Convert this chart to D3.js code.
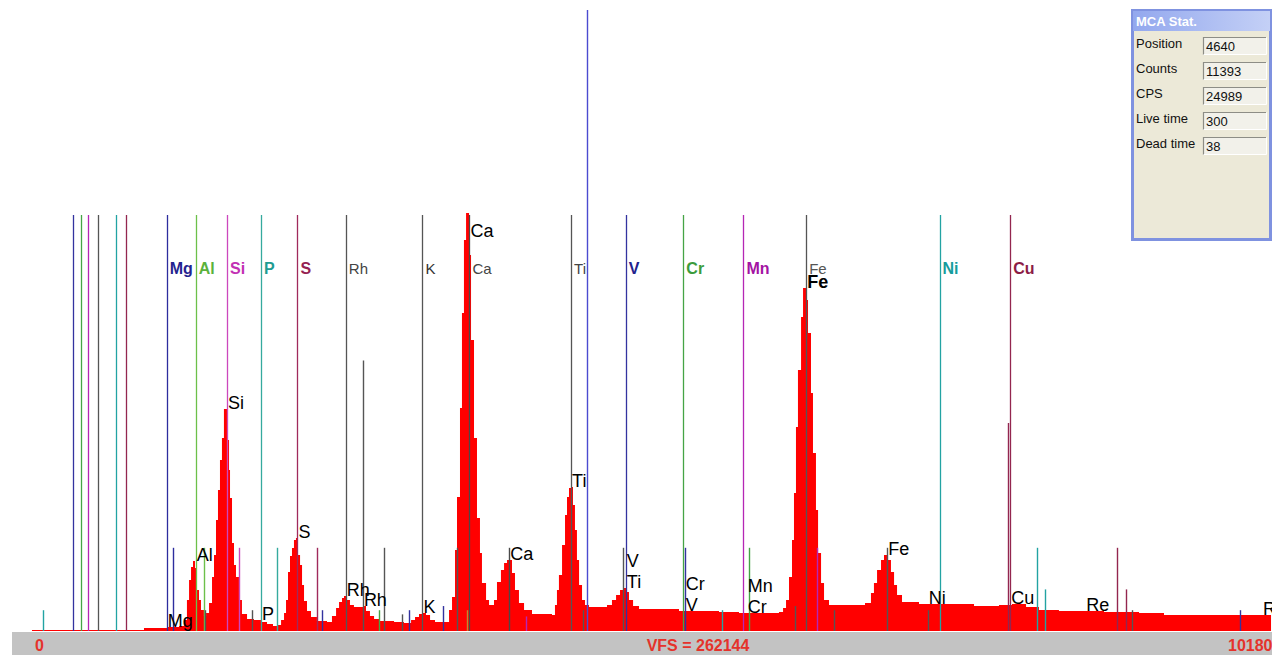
<!DOCTYPE html>
<html>
<head>
<meta charset="utf-8">
<script src="https://cdn.jsdelivr.net/npm/d3@7"></script>
<style>
  html, body { margin: 0; padding: 0; background: #fff; overflow: hidden; }
  svg { display: block; }
  text { font-family: "Liberation Sans", Arial, sans-serif; }
</style>
</head>
<body>
<svg id="chart" width="1272" height="655"></svg>
<script>
// ---- Spectrum: channel energy (eV) and counts per step ----
const energy = [169, 387, 709, 1071, 1256, 1353, 1393, 1417, 1434, 1450, 1466, 1482, 1498, 1514, 1530, 1554, 1571,
  1595, 1619, 1635, 1651, 1667, 1683, 1699, 1715, 1740, 1756, 1764, 1780, 1796, 1812, 1836, 1860, 1901, 1957,
  2013, 2062, 2110, 2142, 2175, 2199, 2215, 2231, 2247, 2263, 2279, 2295, 2311, 2328, 2344, 2360, 2384, 2416,
  2464, 2545, 2585, 2618, 2642, 2666, 2682, 2706, 2730, 2762, 2835, 2859, 2891, 2924, 2964, 3085, 3165, 3222,
  3254, 3286, 3310, 3342, 3375, 3415, 3495, 3528, 3552, 3576, 3592, 3616, 3632, 3648, 3665, 3689, 3705, 3729,
  3753, 3777, 3793, 3826, 3850, 3890, 3914, 3946, 3971, 3995, 4011, 4035, 4059, 4091, 4132, 4196, 4357, 4381,
  4397, 4413, 4438, 4462, 4478, 4494, 4510, 4526, 4542, 4558, 4575, 4599, 4623, 4655, 4800, 4840, 4873, 4905,
  4929, 4953, 4977, 5010, 5058, 5380, 5702, 5863, 6185, 6218, 6242, 6266, 6290, 6306, 6322, 6338, 6363, 6379,
  6403, 6419, 6443, 6459, 6483, 6500, 6524, 6548, 6588, 6878, 6926, 6950, 6975, 7007, 7031, 7055, 7087, 7112,
  7136, 7176, 7313, 7756, 7957, 8062, 8175, 8279, 8440, 8803, 9085, 9286, 10148];
const counts = [422, 422, 422, 1266, 1689, 2111, 4643, 13086, 21529, 27016, 29549, 26594, 17307, 13086, 8865, 6332, 7598,
  11820, 22795, 32082, 46856, 59520, 72184, 81471, 93713, 80627, 67963, 56143, 37147, 27861, 22795, 13086, 7176, 5066, 4643,
  3799, 2955, 2111, 2533, 4643, 7598, 13086, 24906, 31660, 35037, 38414, 39258, 32082, 27861, 19418, 12664, 8443, 5910,
  4221, 3799, 6332, 9709, 12242, 13930, 14775, 13086, 10975, 10131, 10553, 8443, 6332, 5066, 4221, 3799, 3377, 4643,
  5910, 7176, 7598, 6754, 4643, 3799, 3799, 8865, 14352, 34193, 56565, 94135, 134237, 165053, 176450, 158721, 122840, 81471,
  47701, 32926, 20262, 13086, 10975, 13086, 20684, 25750, 28705, 29971, 29971, 24484, 17307, 11820, 8865, 7176, 6754, 10975,
  17307, 23639, 36303, 48967, 56565, 60365, 60787, 53188, 42635, 29971, 19418, 13086, 10975, 10131, 10975, 13086, 15197, 17307,
  18152, 16463, 13086, 10553, 9287, 8443, 8020, 7598, 8020, 9709, 13086, 22795, 38414, 58254, 86115, 110176, 132549, 144791,
  139725, 125795, 100467, 75139, 51078, 32926, 20262, 13086, 10975, 11820, 16041, 20262, 25750, 29971, 32082, 29971, 24906, 19418,
  15197, 12242, 11398, 10553, 10975, 11398, 10131, 8865, 8443, 8020, 7598, 6754, 7176];

const fullScale = 262144;     // vertical full scale (VFS)
const channelMax = 10180;     // last channel shown
const markerLevel = 175600;   // height of a full-strength element marker

// ---- Element K/L marker lines ----
const markerElements = ["Mg", "Al", "Si", "P", "S", "Rh", "K", "Ca", "Ti", "V", "Cr", "Mn", "Fe", "Ni", "Cu"];
const markerEnergies = [1254, 1487, 1740, 2013, 2307, 2697, 3314, 3692, 4511, 4952, 5415, 5899, 6404, 7478, 8048];

const lLineElements = ["V", "Cr", "Mn", "Fe", "Ni", "Cu"];
const lLineEnergies = [502, 564, 623, 703, 843, 924];

// secondary lines (K-beta, L-beta, escape and sum lines) with relative intensity
const minorElements = ["Ni", "Mg", "Al", "Fe", "Si", "Rh", "P", "S", "V", "Rh", "Cr", "Rh", "Rh", "V", "V", "K", "Sum",
  "Ca", "Mn", "Ti", "Ti", "V", "Ni", "Cr", "Fe", "Mn", "Fe", "Fe", "Fe", "Cu", "Ni", "Ni", "Cu", "Cu", "Fe", "V"];
const minorEnergies = [260, 1302, 1557, 1560, 1836, 1941, 2139, 2464, 2502, 2834, 2964, 3001, 3147, 3205, 3479, 3590, 3670,
  4013, 4148, 4604, 4932, 5427, 5724, 5947, 6314, 6490, 6628, 7058, 7383, 8028, 8265, 8328, 8905, 8977, 9031, 9898];
const minorIntensity = [0.05, 0.2, 0.2, 0.05, 0.2, 0.05, 0.2, 0.2, 0.05, 0.65, 0.05, 0.2, 0.04, 0.05, 0.06, 0.2, 0.05,
  0.2, 0.035, 0.05, 0.2, 0.2, 0.05, 0.2, 0.06, 0.2, 0.05, 0.2, 0.05, 0.5, 0.2, 0.1, 0.2, 0.1, 0.05, 0.05];

// ---- Peak identification labels ----
const peakLabelText = ["Mg", "Al", "Si", "P", "S", "Rh", "Rh", "K", "Ca", "Ca", "Ti", "Ti", "V", "V", "Cr", "Cr", "Mn",
  "Fe", "Fe", "Ni", "Cu", "Re", "Re"];
const peakLabelEnergy = [1254, 1487, 1740, 2013, 2307, 2697, 2834, 3314, 3692, 4013, 4511, 4952, 4952, 5427, 5427, 5925, 5925,
  6404, 7058, 7383, 8048, 8652, 10075];
const peakLabelStack = [0, 0, 0, 0, 0, 0, 0, 0, 0, 0, 0, 0, 1, 0, 1, 0, 1, 0, 0, 0, 0, 0, 0];

// ---- Acquisition status ----
const statNames = ["Position", "Counts", "CPS", "Live time", "Dead time"];
const statValues = ["4640", "11393", "24989", "300", "38"];
const cursorPosition = 4640;

// ---- Styles ----
const elementColor = {
  Mg: "#2d2d9e", Al: "#6cc04a", Si: "#cc47bd", P: "#35aa9e", S: "#a02a5c", Rh: "#555555", K: "#555555",
  Ca: "#4a4a4a", Ti: "#555555", V: "#33339f", Cr: "#45a445", Mn: "#b526b5", Fe: "#555555", Ni: "#22a3a3",
  Cu: "#93264f", Sum: "#c08a30"
};
const labelStyle = {
  Mg: ["#24248f", 700], Al: ["#5bb23b", 700], Si: ["#c230b4", 700], P: ["#1f9c92", 700], S: ["#951f52", 700],
  Rh: ["#444", 400], K: ["#333", 400], Ca: ["#444", 400], Ti: ["#444", 400], V: ["#22228c", 700],
  Cr: ["#3c9b3c", 700], Mn: ["#a313a3", 700], Fe: ["#555", 400], Ni: ["#169c9c", 700], Cu: ["#8c1c46", 700]
};

const W = 1272, H = 655;
const svg = d3.select("#chart");
svg.append("rect").attr("width", W).attr("height", H).attr("fill", "#fff");

const x = d3.scaleLinear().domain([0, channelMax]).range([11, 1275]);
const y = d3.scaleLinear().domain([0, fullScale]).range([631, 10]);

const spectrum = energy.map((e, i) => ({ e, c: counts[i] }));

// spectrum fill (histogram steps)
const area = d3.area()
  .x(d => x(d.e))
  .y0(y(0))
  .y1(d => y(d.c))
  .curve(d3.curveStepAfter);
svg.append("path").datum(spectrum).attr("d", area).attr("fill", "#ff0000");

// full-height element markers
const markers = markerElements.map((el, i) => ({ el, e: markerEnergies[i] }))
  .concat(lLineElements.map((el, i) => ({ el, e: lLineEnergies[i], lLine: true })));
svg.append("g").selectAll("line").data(markers).join("line")
  .attr("x1", d => Math.round(x(d.e)) + 0.5).attr("x2", d => Math.round(x(d.e)) + 0.5)
  .attr("y1", y(markerLevel)).attr("y2", y(0))
  .attr("stroke", d => elementColor[d.el]).attr("stroke-width", 1.3);

// secondary lines
const minor = minorElements.map((el, i) => ({ el, e: minorEnergies[i], r: minorIntensity[i] }));
svg.append("g").selectAll("line").data(minor).join("line")
  .attr("x1", d => Math.round(x(d.e)) + 0.5).attr("x2", d => Math.round(x(d.e)) + 0.5)
  .attr("y1", d => y(d.r * markerLevel)).attr("y2", y(0))
  .attr("stroke", d => elementColor[d.el]).attr("stroke-width", 1.4);

// marker names
svg.append("g").selectAll("text").data(markers.filter(d => !d.lLine)).join("text")
  .attr("x", d => x(d.e) + 3).attr("y", 274)
  .attr("font-size", d => labelStyle[d.el][1] === 700 ? 16 : 15)
  .attr("font-weight", d => labelStyle[d.el][1])
  .attr("fill", d => labelStyle[d.el][0])
  .text(d => d.el);

// peak labels sit on the highest step near their energy
function peakValue(e) {
  let best = 0;
  spectrum.forEach((d, i) => {
    const next = i + 1 < spectrum.length ? spectrum[i + 1].e : channelMax;
    if (next > e - 25 && d.e <= e + 25) best = Math.max(best, d.c);
  });
  return best;
}
const labelFloor = y(markerLevel) + 22;
const peakLabels = peakLabelText.map((t, i) => {
  const v = peakValue(peakLabelEnergy[i]);
  const base = Math.max(y(v), labelFloor) - peakLabelStack[i] * 21;
  return { t, e: peakLabelEnergy[i], v, base, clamped: y(v) < labelFloor };
});
svg.append("g").selectAll("text").data(peakLabels).join("text")
  .attr("x", d => x(d.e) + 1).attr("y", d => d.base)
  .attr("font-size", 18)
  .attr("font-weight", d => (!d.clamped && d.v > 100000) ? 700 : 400)
  .attr("fill", "#000")
  .text(d => d.t);

// cursor
svg.append("line")
  .attr("x1", Math.round(x(cursorPosition)) + 0.5).attr("x2", Math.round(x(cursorPosition)) + 0.5)
  .attr("y1", y(fullScale)).attr("y2", y(0))
  .attr("stroke", "#4b4bd0").attr("stroke-width", 1.4);

// status bar
svg.append("rect").attr("x", 12).attr("y", 632).attr("width", W - 12).attr("height", H - 632).attr("fill", "#c3c3c3");
const barText = svg.append("g").attr("fill", "#e5322b").attr("font-size", 16).attr("font-weight", 700);
barText.append("text").attr("x", 35).attr("y", 651).text("0");
barText.append("text").attr("x", 698).attr("y", 651).attr("text-anchor", "middle").text(`VFS = ${fullScale}`);
barText.append("text").attr("x", 1228).attr("y", 651).text(String(channelMax));

// MCA status window
const panel = svg.append("g").attr("transform", "translate(1131,9)");
const grad = svg.append("defs").append("linearGradient").attr("id", "titleGrad")
  .attr("x1", 0).attr("x2", 1).attr("y1", 0).attr("y2", 0);
grad.append("stop").attr("offset", 0).attr("stop-color", "#93a8ee");
grad.append("stop").attr("offset", 1).attr("stop-color", "#c4d0f6");
panel.append("rect").attr("width", 141).attr("height", 232).attr("fill", "#7f92e0");
panel.append("rect").attr("x", 2).attr("y", 2).attr("width", 137).attr("height", 20).attr("fill", "url(#titleGrad)");
panel.append("rect").attr("x", 3).attr("y", 22).attr("width", 135).attr("height", 207).attr("fill", "#ece9d8");
panel.append("text").attr("x", 5).attr("y", 17).attr("font-size", 13).attr("font-weight", 700)
  .attr("fill", "#fff").text("MCA Stat.");
const rows = panel.selectAll("g.row").data(statNames.map((n, i) => ({ n, v: statValues[i], i }))).join("g")
  .attr("class", "row").attr("transform", d => `translate(0,${28 + d.i * 25})`);
rows.append("text").attr("x", 5).attr("y", 11).attr("font-size", 13).attr("fill", "#111").text(d => d.n);
rows.append("rect").attr("x", 72).attr("y", 0).attr("width", 63).attr("height", 18)
  .attr("fill", "#f2f1ea");
rows.append("path").attr("d", "M72.5,18 V0.5 H135").attr("fill", "none").attr("stroke", "#8d8d86").attr("stroke-width", 1.2);
rows.append("path").attr("d", "M72.5,17.5 H135.5 V0.5").attr("fill", "none").attr("stroke", "#ffffff").attr("stroke-width", 1);
rows.append("text").attr("x", 75).attr("y", 14).attr("font-size", 13).attr("fill", "#111").text(d => d.v);
</script>
</body>
</html>
